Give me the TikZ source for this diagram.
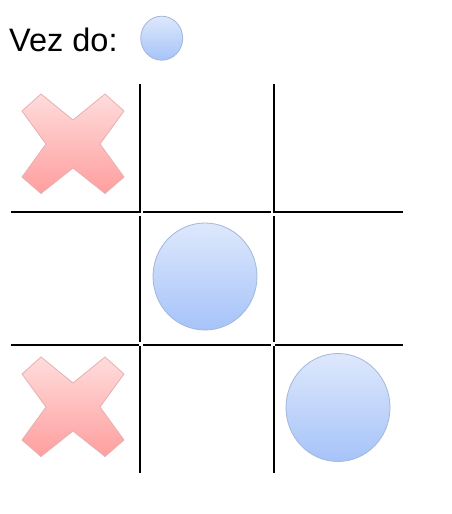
\documentclass[tikz,border=0pt]{standalone}
\usepackage{fontspec}
\setmainfont{Liberation Sans}
\definecolor{xtop}{HTML}{FFDCDC}
\definecolor{xbot}{HTML}{FF9E9E}
\definecolor{xedge}{HTML}{E6B0B0}
\definecolor{otop}{HTML}{DEE8FC}
\definecolor{obot}{HTML}{A6C3F9}
\definecolor{oedge}{HTML}{A3B7DA}
\begin{document}
\begin{tikzpicture}[x=1pt,y=-1pt,
  gridline/.style={line width=2pt, black},
  omark/.style={draw=oedge, line width=0.8pt, top color=otop, bottom color=obot},
  xmark/.style={draw=xedge, line width=0.8pt, line join=round, top color=xtop, bottom color=xbot}]
\useasboundingbox (0,0) rectangle (451,514);
\fill[white] (0,0) rectangle (451,514);
% header
\node[anchor=base west, inner sep=0pt, font=\fontsize{32.5}{32.5}\selectfont] (turn) at (9,51.7) {Vez do:};
\path[omark] (161.7,38.2) ellipse [x radius=21, y radius=22];
% grid
\foreach \gx in {140,274}{
  \draw[gridline] (\gx,84) -- (\gx,213);
  \draw[gridline] (\gx,216) -- (\gx,342);
  \draw[gridline] (\gx,346) -- (\gx,473);
}
\foreach \gy in {212,345}{
  \draw[gridline] (11,\gy) -- (139,\gy);
  \draw[gridline] (143,\gy) -- (271,\gy);
  \draw[gridline] (275,\gy) -- (403,\gy);
}
% crosses
\foreach \cy in {144,407}{
  \path[xmark, shift={(73,\cy)}] (-51,-33) -- (-32,-50) -- (0,-24) -- (32,-50) -- (51,-33) -- (27,0)
     -- (51,33) -- (32,49.5) -- (0,24) -- (-32,49.5) -- (-51,33) -- (-27,0) -- cycle;
}
% circles
\path[omark] (205,276.5) ellipse [x radius=52, y radius=53.5];
\path[omark] (338,407.5) ellipse [x radius=52, y radius=54];
\end{tikzpicture}
\end{document}
